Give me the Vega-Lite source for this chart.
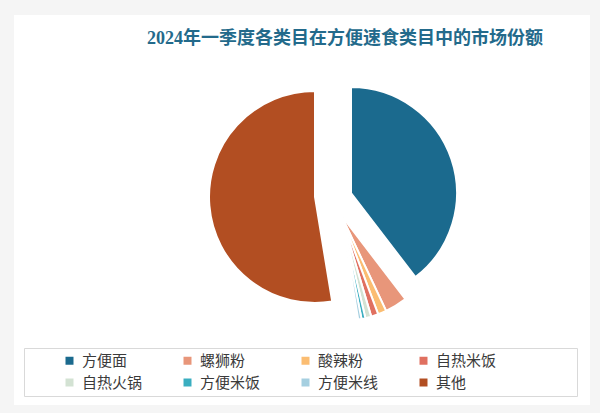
{
  "$schema": "https://vega.github.io/schema/vega-lite/v6.json",
  "width": 576,
  "height": 390,
  "autosize": "none",
  "padding": {"left": 14, "top": 15, "right": 10, "bottom": 8},
  "background": "#f5f5f5",
  "view": {"fill": "white", "stroke": null},
  "title": {
    "text": "2024年一季度各类目在方便速食类目中的市场份额",
    "anchor": "start",
    "dx": 133,
    "offset": -33,
    "font": "Liberation Serif, Noto Sans CJK SC",
    "fontSize": 18,
    "fontWeight": "bold",
    "color": "#236a8b"
  },
  "data": {
    "values": [
      {"category": "方便面", "value": 39.6},
      {"category": "螺狮粉", "value": 3.4},
      {"category": "酸辣粉", "value": 1.3},
      {"category": "自热米饭", "value": 1.1},
      {"category": "自热火锅", "value": 0.9},
      {"category": "方便米饭", "value": 0.6},
      {"category": "方便米线", "value": 0.5},
      {"category": "其他", "value": 52.6}
    ]
  },
  "transform": [{"window": [{"op": "row_number", "as": "i"}]}],
  "mark": {
    "type": "arc",
    "outerRadius": 106,
    "stroke": "white",
    "strokeWidth": 2,
    "xOffset": {"expr": "datum.category == '方便面' ? 49 : datum.category == '其他' ? 13 : 39"},
    "yOffset": {"expr": "datum.category == '方便面' ? -17 : datum.category == '其他' ? -13 : 5"}
  },
  "encoding": {
    "theta": {"field": "value", "type": "quantitative", "stack": true},
    "order": {"field": "i", "type": "quantitative"},
    "color": {
      "field": "category",
      "type": "nominal",
      "scale": {
        "domain": ["方便面", "螺狮粉", "酸辣粉", "自热米饭", "自热火锅", "方便米饭", "方便米线", "其他"],
        "range": ["#1b6a8e", "#e8967a", "#fbbd72", "#e07060", "#d3e2d3", "#3aaec0", "#a5cfe0", "#b24e22"]
      },
      "legend": {
        "orient": "none",
        "legendX": 10,
        "legendY": 333,
        "columns": 4,
        "direction": "horizontal",
        "gridAlign": "each",
        "columnPadding": 37,
        "rowPadding": 6,
        "padding": 5,
        "strokeColor": "#d9d9d9",
        "fillColor": "white",
        "title": " ",
        "titleOrient": "left",
        "titleFontSize": 1,
        "titlePadding": 33,
        "symbolType": "square",
        "symbolSize": 64,
        "symbolStrokeWidth": 0,
        "labelFont": "Noto Sans CJK SC",
        "labelFontSize": 15,
        "labelColor": "#3a3a3a",
        "labelOffset": 5,
        "labelLimit": 300,
        "labelExpr": "datum.label == '自热米饭' ? datum.label + '\u3000\u3000\u3000\u3000\u3000\u200b' : datum.label"
      }
    }
  }
}
